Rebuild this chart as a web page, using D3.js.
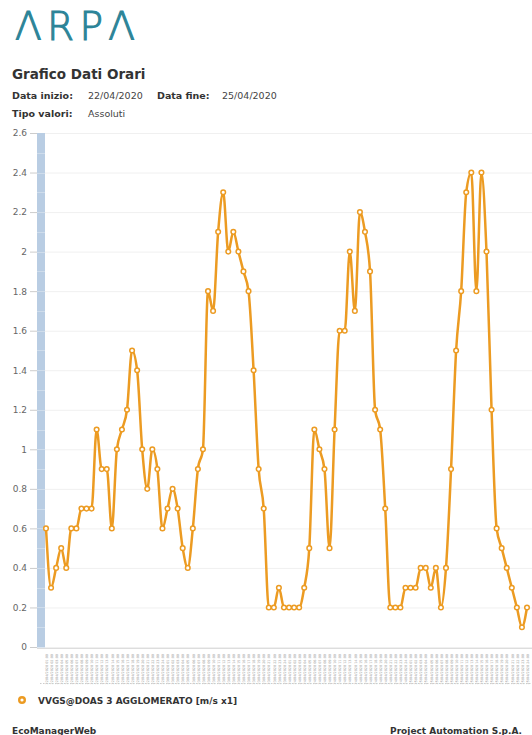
<!DOCTYPE html>
<html>
<head>
<meta charset="utf-8">
<script src="https://cdn.jsdelivr.net/npm/d3@7"></script>
<style>
  body { margin: 0; background: #fff; }
  text { font-family: "DejaVu Sans", Verdana, sans-serif; }
</style>
</head>
<body>
<script>
// dati orari vento, 22/04/2020 - 25/04/2020
var giorni = ["22/04/2020", "23/04/2020", "24/04/2020", "25/04/2020"];
var ore = ["01:00", "02:00", "03:00", "04:00", "05:00", "06:00", "07:00", "08:00",
    "09:00", "10:00", "11:00", "12:00", "13:00", "14:00", "15:00", "16:00",
    "17:00", "18:00", "19:00", "20:00", "21:00", "22:00", "23:00", "24:00"];
var valori = [
    0.6, 0.3, 0.4, 0.5, 0.4, 0.6, 0.6, 0.7, 0.7, 0.7, 1.1, 0.9, 0.9, 0.6, 1.0, 1.1,
    1.2, 1.5, 1.4, 1.0, 0.8, 1.0, 0.9, 0.6, 0.7, 0.8, 0.7, 0.5, 0.4, 0.6, 0.9, 1.0,
    1.8, 1.7, 2.1, 2.3, 2.0, 2.1, 2.0, 1.9, 1.8, 1.4, 0.9, 0.7, 0.2, 0.2, 0.3, 0.2,
    0.2, 0.2, 0.2, 0.3, 0.5, 1.1, 1.0, 0.9, 0.5, 1.1, 1.6, 1.6, 2.0, 1.7, 2.2, 2.1,
    1.9, 1.2, 1.1, 0.7, 0.2, 0.2, 0.2, 0.3, 0.3, 0.3, 0.4, 0.4, 0.3, 0.4, 0.2, 0.4,
    0.9, 1.5, 1.8, 2.3, 2.4, 1.8, 2.4, 2.0, 1.2, 0.6, 0.5, 0.4, 0.3, 0.2, 0.1, 0.2];
var yTicks = [0, 0.2, 0.4, 0.6, 0.8, 1, 1.2, 1.4, 1.6, 1.8, 2, 2.2, 2.4, 2.6];
var serieNome = "VVGS@DOAS 3 AGGLOMERATO [m/s x1]";

// etichette asse x: giorno + ora
var etichette = d3.cross(giorni, ore).map(function(d) { return d[0] + " " + d[1]; });
var data = valori.map(function(v, i) { return { label: etichette[i], value: v }; });

var W = 532, H = 735;
var arancio = "#ec9b22";

var svg = d3.select("body").append("svg")
    .attr("width", W)
    .attr("height", H);

// logo
svg.append("text")
    .attr("x", 15).attr("y", 40)
    .attr("fill", "#2c8498")
    .attr("stroke", "#2c8498")
    .attr("stroke-width", 1.1)
    .attr("textLength", 120)
    .attr("lengthAdjust", "spacing")
    .style("font-size", "39px")
    .style("font-weight", 200)
    .text("ΛRPΛ");

// intestazione
svg.append("text").attr("x", 12).attr("y", 79)
    .attr("fill", "#333").style("font-size", "13.5px").style("font-weight", "bold")
    .text("Grafico Dati Orari");

function riga(y, parti) {
    parti.forEach(function(p) {
        svg.append("text").attr("x", p[0]).attr("y", y)
            .attr("fill", p[2] ? "#333" : "#444")
            .style("font-size", "9.5px")
            .style("font-weight", p[2] ? "bold" : "normal")
            .text(p[1]);
    });
}
riga(99, [[12, "Data inizio:", true], [88, "22/04/2020"], [157, "Data fine:", true], [222, "25/04/2020"]]);
riga(117, [[12, "Tipo valori:", true], [88, "Assoluti"]]);

// scale
var x = d3.scalePoint()
    .domain(data.map(function(d) { return d.label; }))
    .range([46, 527]);
var y = d3.scaleLinear()
    .domain([0, 2.6])
    .range([647, 133]);

// griglia
svg.append("g")
    .selectAll("line")
    .data(yTicks)
    .enter().append("line")
    .attr("x1", 45).attr("x2", W)
    .attr("y1", function(d) { return y(d) + 0.5; })
    .attr("y2", function(d) { return y(d) + 0.5; })
    .attr("stroke", "#f0f0f0");

// barra blu asse y
svg.append("rect")
    .attr("x", 37).attr("y", y(2.6))
    .attr("width", 8).attr("height", y(0) - y(2.6))
    .attr("fill", "#b9cde3");
svg.append("g")
    .selectAll("line")
    .data(d3.range(0, 2.6, 0.1))
    .enter().append("line")
    .attr("x1", 37).attr("x2", 45)
    .attr("y1", function(d) { return Math.round(y(d)) + 0.5; })
    .attr("y2", function(d) { return Math.round(y(d)) + 0.5; })
    .attr("stroke", "#d3e0ee").attr("stroke-width", 0.8);

// asse y
var yAxis = d3.axisLeft(y)
    .tickValues(yTicks)
    .tickSize(7)
    .tickPadding(3)
    .tickFormat(function(d) { return String(d); });
var gy = svg.append("g")
    .attr("transform", "translate(37,0)")
    .call(yAxis);
gy.select(".domain").remove();
gy.selectAll("line").attr("stroke", "#ccc");
gy.selectAll("text")
    .attr("fill", "#666")
    .style("font-size", "9px")
    .style("font-family", "DejaVu Sans, sans-serif");

// asse x
var xAxis = d3.axisBottom(x).tickSize(0).tickPadding(0);
var gx = svg.append("g")
    .attr("transform", "translate(0," + 648 + ")")
    .call(xAxis);
gx.select(".domain")
    .attr("d", "M37,0.5H" + W)
    .attr("stroke", "#ddd");
gx.selectAll("text")
    .attr("transform", "translate(0,6) rotate(-90)")
    .attr("text-anchor", "end")
    .attr("dy", "0.35em")
    .attr("x", 0).attr("y", 0)
    .attr("fill", "#999")
    .style("font-size", "3.4px")
    .style("font-family", "DejaVu Sans, sans-serif");

// linea serie
var line = d3.line()
    .x(function(d) { return x(d.label); })
    .y(function(d) { return y(d.value); })
    .curve(d3.curveMonotoneX);

svg.append("path")
    .datum(data)
    .attr("fill", "none")
    .attr("stroke", arancio)
    .attr("stroke-width", 2.5)
    .attr("stroke-linejoin", "round")
    .attr("d", line);

svg.append("g")
    .selectAll("circle")
    .data(data)
    .enter().append("circle")
    .attr("cx", function(d) { return x(d.label); })
    .attr("cy", function(d) { return y(d.value); })
    .attr("r", 2.3)
    .attr("fill", "#fff")
    .attr("stroke", arancio)
    .attr("stroke-width", 1.5);

// separatore legenda
svg.append("line")
    .attr("x1", 40).attr("x2", W)
    .attr("y1", 683.5).attr("y2", 683.5)
    .attr("stroke", "#ccc")
    .attr("stroke-dasharray", "1.5,1.5");

// legenda
svg.append("circle")
    .attr("cx", 22).attr("cy", 700)
    .attr("r", 2.8)
    .attr("fill", "#fff")
    .attr("stroke", arancio)
    .attr("stroke-width", 2.4);
svg.append("text")
    .attr("x", 38).attr("y", 703.5)
    .attr("fill", "#333")
    .style("font-size", "9px").style("font-weight", "bold")
    .text(serieNome);

// piè di pagina
svg.append("text")
    .attr("x", 12).attr("y", 734)
    .attr("fill", "#333")
    .style("font-size", "9px").style("font-weight", "bold")
    .text("EcoManagerWeb");
svg.append("text")
    .attr("x", 522).attr("y", 734)
    .attr("text-anchor", "end")
    .attr("fill", "#333")
    .style("font-size", "9px").style("font-weight", "bold")
    .text("Project Automation S.p.A.");
</script>
</body>
</html>
